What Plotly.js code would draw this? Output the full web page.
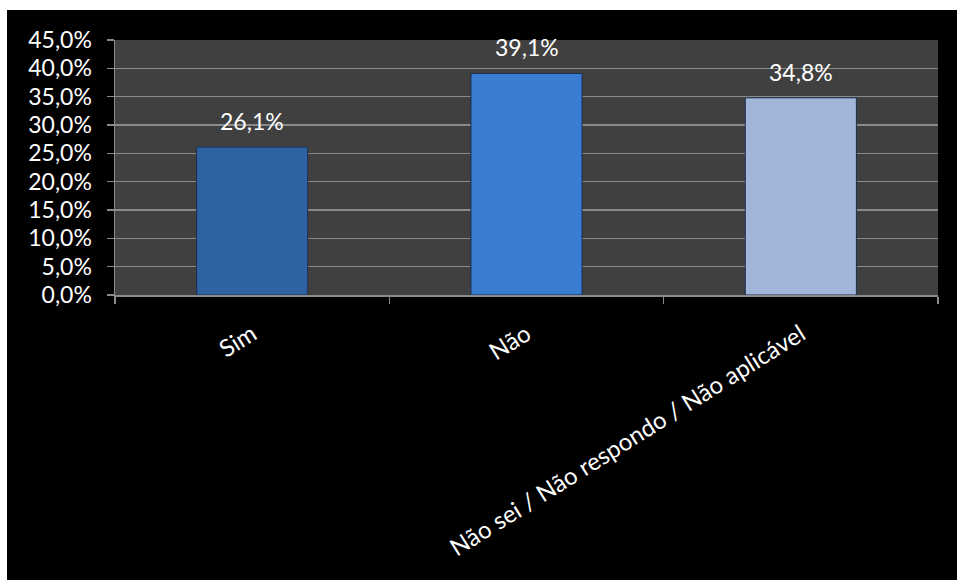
<!DOCTYPE html>
<html>
<head>
<meta charset="utf-8">
<script src="https://cdn.plot.ly/plotly-3.0.1.min.js"></script>
<style>
html,body{margin:0;padding:0;background:#fff;width:957px;height:580px;overflow:hidden;}
#chart{position:absolute;left:7px;top:10px;width:950px;height:570px;}
</style>
</head>
<body>
<div id="chart"></div>
<script>
const categories = ["Sim", "Não", "Não sei / Não respondo / Não aplicável"];
const values = [0.261, 0.391, 0.348];
const valueLabels = ["26,1%", "39,1%", "34,8%"];
const barColors = ["#2f62a0", "#3a7cd2", "#a2b6da"];
const yTickVals = [0, 0.05, 0.10, 0.15, 0.20, 0.25, 0.30, 0.35, 0.40, 0.45];

const font = "Lato, 'Open Sans', sans-serif";

const trace = {
  type: "bar",
  x: categories,
  y: values,
  width: 0.405,
  marker: {color: barColors, line: {color: "#1b2f4f", width: 1}},
  cliponaxis: false,
  hoverinfo: "none"
};

const annotations = categories.map((c, i) => ({
  x: c, y: values[i], xref: "x", yref: "y",
  text: valueLabels[i], showarrow: false,
  yanchor: "bottom", yshift: 10,
  font: {color: "#ffffff", size: 23, family: font}
}));

const layout = {
  width: 950, height: 570,
  paper_bgcolor: "#000000",
  plot_bgcolor: "#404040",
  margin: {l: 108, r: 19, t: 30, b: 285},
  separators: ",.",
  showlegend: false,
  font: {family: font, color: "#ffffff", size: 23},
  annotations: annotations,
  xaxis: {
    type: "category",
    tickangle: -32,
    tickson: "boundaries",
    ticks: "outside",
    ticklen: 7,
    tickcolor: "#8a8a8a",
    tickwidth: 1.5,
    showline: true,
    linecolor: "#8a8a8a",
    linewidth: 2,
    showgrid: false,
    ticklabelstandoff: 14,
    tickfont: {size: 24, color: "#ffffff", family: font}
  },
  yaxis: {
    range: [0, 0.45],
    tickvals: yTickVals,
    tickformat: ".1%",
    ticks: "outside",
    ticklen: 7,
    tickcolor: "#8a8a8a",
    tickwidth: 1.5,
    showline: true,
    linecolor: "#8a8a8a",
    linewidth: 1.5,
    showgrid: true,
    gridcolor: "#8a8a8a",
    gridwidth: 1.5,
    zeroline: false,
    ticklabelstandoff: 10,
    tickfont: {size: 23, color: "#ffffff", family: font}
  }
};

Plotly.newPlot("chart", [trace], layout, {staticPlot: true});
</script>
</body>
</html>
